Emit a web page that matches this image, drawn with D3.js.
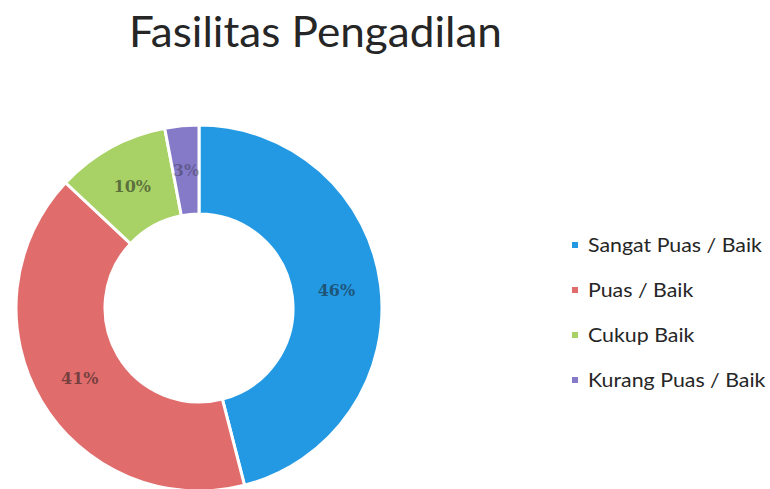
<!DOCTYPE html>
<html>
<head>
<meta charset="utf-8">
<script src="https://cdn.jsdelivr.net/npm/d3@7"></script>
<style>
  body { margin: 0; background: #fff; }
  svg { display: block; }
</style>
</head>
<body>
<div id="chart"></div>
<script>
// chart data
let categories = ["Sangat Puas / Baik", "Puas / Baik", "Cukup Baik", "Kurang Puas / Baik"];
let values = [46, 41, 10, 3];
let colors = ["#2399e4", "#e06c6c", "#a8d266", "#857ac8"];

let width = 770, height = 489;

// donut geometry
let cx = 199, cy = 308;
let outerR = 183, innerR = 94;

let svg = d3.select("#chart").append("svg")
    .attr("width", width)
    .attr("height", height);

// Title
let title = svg.append("text")
    .attr("x", 129)
    .attr("y", 47)
    .attr("font-family", "Lato, 'Open Sans', sans-serif")
    .attr("font-size", 42)
    .attr("fill", "#262626")
    .text("Fasilitas Pengadilan");
title.attr("textLength", 373).attr("lengthAdjust", "spacingAndGlyphs");

let pie = d3.pie()
    .sort(null)
    .value(d => d.value);

let data = categories.map((c, i) => ({name: c, value: values[i], color: colors[i]}));

let arc = d3.arc()
    .innerRadius(innerR)
    .outerRadius(outerR);

let labelArc = d3.arc()
    .innerRadius((innerR + outerR) / 2)
    .outerRadius((innerR + outerR) / 2);

let donut = svg.append("g")
    .attr("transform", "translate(" + cx + "," + cy + ")");

donut.selectAll("path")
    .data(pie(data))
    .enter()
    .append("path")
    .attr("d", arc)
    .attr("fill", d => d.data.color)
    .attr("stroke", "#fff")
    .attr("stroke-width", 3);

donut.selectAll("text")
    .data(pie(data))
    .enter()
    .append("text")
    .attr("transform", d => "translate(" + labelArc.centroid(d) + ")")
    .attr("text-anchor", "middle")
    .attr("dy", "0.35em")
    .attr("font-family", "'DejaVu Serif', 'Liberation Serif', serif")
    .attr("font-weight", "bold")
    .attr("font-size", 16)
    .attr("fill", "#1a1a1a")
    .attr("fill-opacity", d => d.data.value < 5 ? 0.35 : 0.55)
    .text(d => d.data.value + "%");

// Legend
let legendX = 572, legendY0 = 245, legendStep = 45;
let legend = svg.append("g");

let rows = legend.selectAll("g")
    .data(data)
    .enter()
    .append("g")
    .attr("transform", (d, i) => "translate(" + legendX + "," + (legendY0 + i * legendStep) + ")");

rows.append("rect")
    .attr("x", 0)
    .attr("y", -3)
    .attr("width", 6)
    .attr("height", 6)
    .attr("fill", d => d.color);

let legendText = rows.append("text")
    .attr("x", 16)
    .attr("dy", "0.35em")
    .attr("font-family", "Lato, 'Open Sans', sans-serif")
    .attr("font-size", 19)
    .attr("fill", "#262626")
    .text(d => d.name);

// squeeze the legend text a bit to match the narrow original font
let firstW = legendText.node().getComputedTextLength();
let sx = 174 / firstW;
legendText.attr("transform", "translate(16,0) scale(" + sx + ",1) translate(-16,0)");
</script>
</body>
</html>
